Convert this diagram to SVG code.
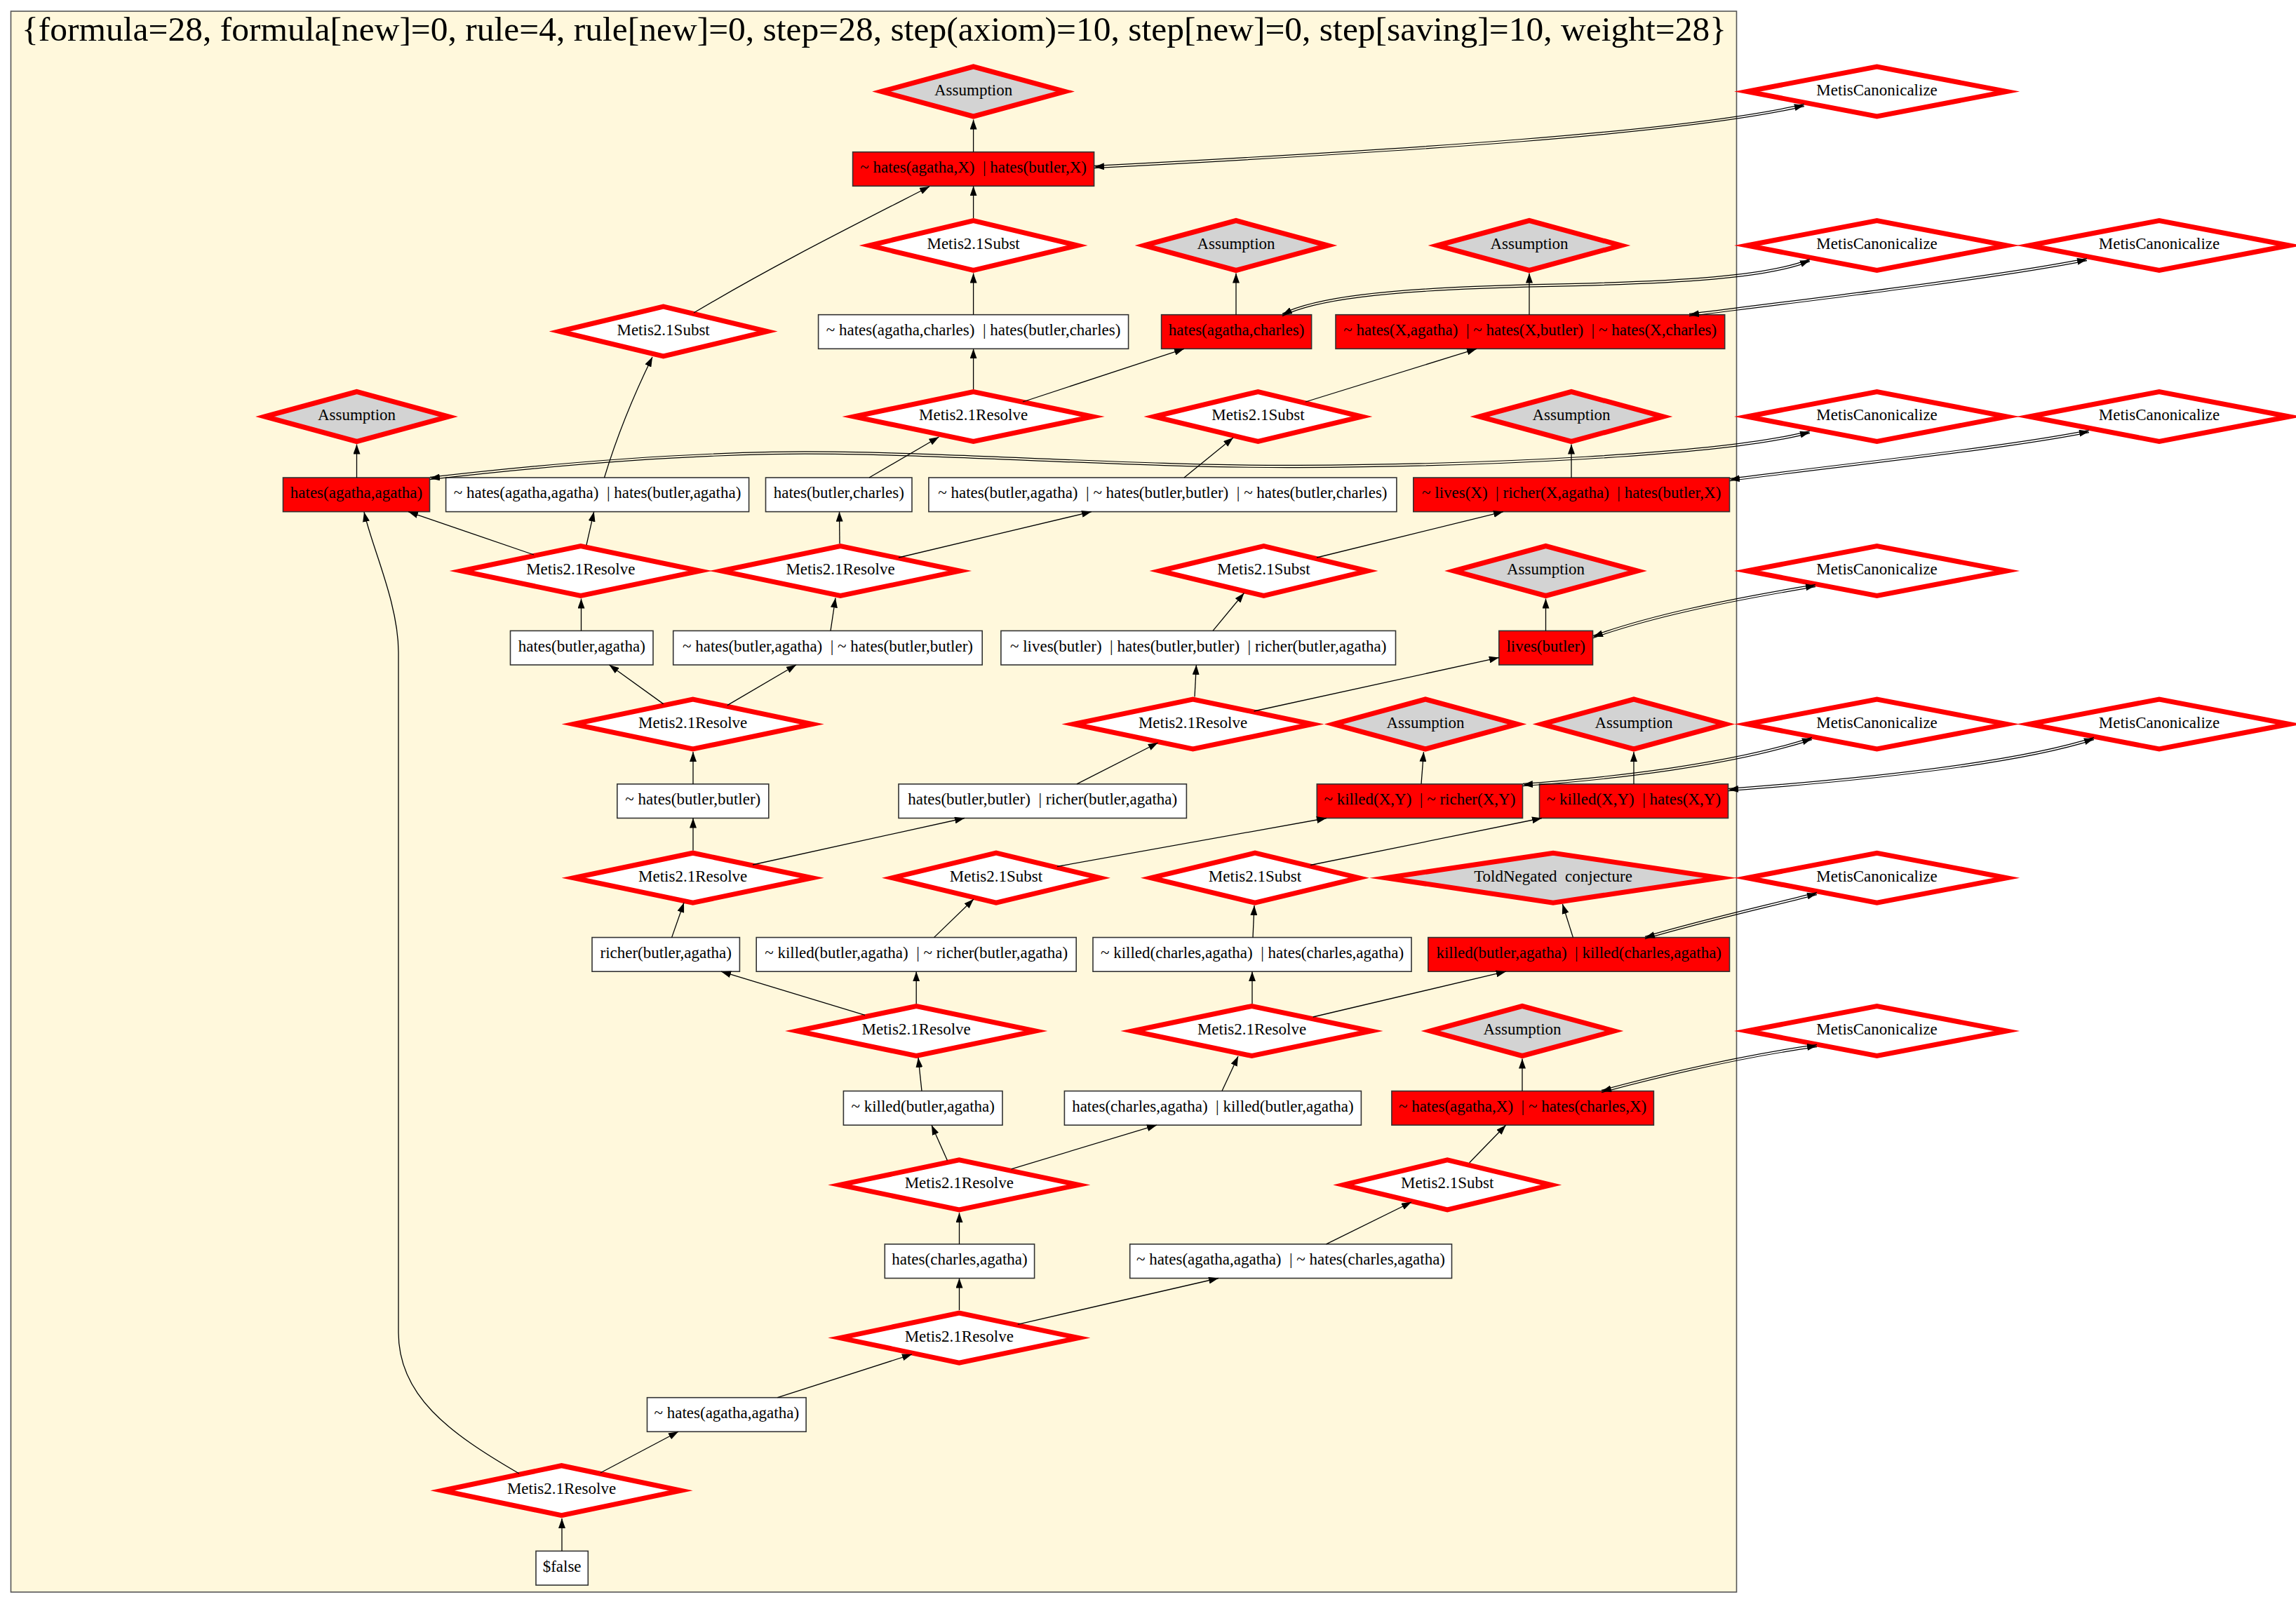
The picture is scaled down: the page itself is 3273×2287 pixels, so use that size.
<svg xmlns="http://www.w3.org/2000/svg" width="3273" height="2287" viewBox="0 0 3273 2287">
<style>
.bx{fill:#ffffff;stroke:#333;stroke-width:1.6}
.rd{fill:#ff0000;stroke:#333;stroke-width:1.6}
.dm{fill:#ffffff;stroke:#ff0000;stroke-width:7;stroke-miterlimit:12}
.ax{fill:#d3d3d3;stroke:#ff0000;stroke-width:7;stroke-miterlimit:12}
.t{font-family:"Liberation Serif","Times New Roman",serif;font-size:23px;text-anchor:middle;white-space:pre;fill:#000}
.e{fill:none;stroke:#000;stroke-width:1.3}
.d{fill:none;stroke:#000;stroke-width:1.2}
.a{fill:none;stroke:none}
</style>
<defs>
<marker id="ah" markerUnits="userSpaceOnUse" viewBox="0 0 14 10" refX="14" refY="5" markerWidth="14" markerHeight="10" orient="auto-start-reverse"><path d="M0,0 L14,5 L0,10 z" fill="#000"/></marker>
</defs>
<rect x="0" y="0" width="3273" height="2287" fill="#ffffff"/>
<g id="cluster">
<rect x="15.5" y="16" width="2460" height="2254" fill="#fff8dc" stroke="#555" stroke-width="1.6"/>
<text x="31" y="58" font-family="Liberation Serif, Times New Roman, serif" font-size="48" textLength="2430" lengthAdjust="spacingAndGlyphs">{formula=28, formula[new]=0, rule=4, rule[new]=0, step=28, step(axiom)=10, step[new]=0, step[saving]=10, weight=28}</text>
</g>

<g id="n1"><polygon class="ax" points="1256.6,130.5 1387.6,95 1518.6,130.5 1387.6,166"/><text class="t" x="1387.6" y="135.5">Assumption</text></g>
<g id="n2"><polygon class="dm" points="2490.6,130.5 2675.6,95 2860.6,130.5 2675.6,166"/><text class="t" x="2675.6" y="135.5">MetisCanonicalize</text></g>
<g id="n3"><rect class="rd" x="1215.6" y="216.7" width="344" height="48.6"/><text class="t" x="1387.6" y="246">~ hates(agatha,X)  | hates(butler,X)</text></g>
<g id="n4"><polygon class="dm" points="1239.6,350 1387.6,314.5 1535.6,350 1387.6,385.5"/><text class="t" x="1387.6" y="355">Metis2.1Subst</text></g>
<g id="n5"><polygon class="ax" points="1631,350 1762,314.5 1893,350 1762,385.5"/><text class="t" x="1762" y="355">Assumption</text></g>
<g id="n6"><polygon class="ax" points="2049,350 2180,314.5 2311,350 2180,385.5"/><text class="t" x="2180" y="355">Assumption</text></g>
<g id="n7"><polygon class="dm" points="2490.6,350 2675.6,314.5 2860.6,350 2675.6,385.5"/><text class="t" x="2675.6" y="355">MetisCanonicalize</text></g>
<g id="n8"><polygon class="dm" points="2893,350 3078,314.5 3263,350 3078,385.5"/><text class="t" x="3078" y="355">MetisCanonicalize</text></g>
<g id="n9"><polygon class="dm" points="797.6,472.5 945.6,437 1093.6,472.5 945.6,508"/><text class="t" x="945.6" y="477.5">Metis2.1Subst</text></g>
<g id="n10"><rect class="bx" x="1166.6" y="448.7" width="442" height="48.6"/><text class="t" x="1387.6" y="478">~ hates(agatha,charles)  | hates(butler,charles)</text></g>
<g id="n11"><rect class="rd" x="1655.6" y="448.7" width="214" height="48.6"/><text class="t" x="1762.6" y="478">hates(agatha,charles)</text></g>
<g id="n12"><rect class="rd" x="1904" y="448.7" width="554.7" height="48.6"/><text class="t" x="2181.3" y="478">~ hates(X,agatha)  | ~ hates(X,butler)  | ~ hates(X,charles)</text></g>
<g id="n13"><polygon class="ax" points="377.5,594 508.5,558.5 639.5,594 508.5,629.5"/><text class="t" x="508.5" y="599">Assumption</text></g>
<g id="n14"><polygon class="dm" points="1217.6,594 1387.6,558.5 1557.6,594 1387.6,629.5"/><text class="t" x="1387.6" y="599">Metis2.1Resolve</text></g>
<g id="n15"><polygon class="dm" points="1645.4,594 1793.4,558.5 1941.4,594 1793.4,629.5"/><text class="t" x="1793.4" y="599">Metis2.1Subst</text></g>
<g id="n16"><polygon class="ax" points="2109,594 2240,558.5 2371,594 2240,629.5"/><text class="t" x="2240" y="599">Assumption</text></g>
<g id="n17"><polygon class="dm" points="2490.6,594 2675.6,558.5 2860.6,594 2675.6,629.5"/><text class="t" x="2675.6" y="599">MetisCanonicalize</text></g>
<g id="n18"><polygon class="dm" points="2893,594 3078,558.5 3263,594 3078,629.5"/><text class="t" x="3078" y="599">MetisCanonicalize</text></g>
<g id="n19"><rect class="rd" x="403.5" y="681" width="209" height="48.6"/><text class="t" x="508" y="710.3">hates(agatha,agatha)</text></g>
<g id="n20"><rect class="bx" x="635.6" y="681" width="432" height="48.6"/><text class="t" x="851.6" y="710.3">~ hates(agatha,agatha)  | hates(butler,agatha)</text></g>
<g id="n21"><rect class="bx" x="1091.5" y="681" width="208.5" height="48.6"/><text class="t" x="1195.8" y="710.3">hates(butler,charles)</text></g>
<g id="n22"><rect class="bx" x="1323.9" y="681" width="667" height="48.6"/><text class="t" x="1657.4" y="710.3">~ hates(butler,agatha)  | ~ hates(butler,butler)  | ~ hates(butler,charles)</text></g>
<g id="n23"><rect class="rd" x="2014.8" y="681" width="450.7" height="48.6"/><text class="t" x="2240.2" y="710.3">~ lives(X)  | richer(X,agatha)  | hates(butler,X)</text></g>
<g id="n24"><polygon class="dm" points="657.8,814 827.8,778.5 997.8,814 827.8,849.5"/><text class="t" x="827.8" y="819">Metis2.1Resolve</text></g>
<g id="n25"><polygon class="dm" points="1028,814 1198,778.5 1368,814 1198,849.5"/><text class="t" x="1198" y="819">Metis2.1Resolve</text></g>
<g id="n26"><polygon class="dm" points="1653.5,814 1801.5,778.5 1949.5,814 1801.5,849.5"/><text class="t" x="1801.5" y="819">Metis2.1Subst</text></g>
<g id="n27"><polygon class="ax" points="2072.5,814 2203.5,778.5 2334.5,814 2203.5,849.5"/><text class="t" x="2203.5" y="819">Assumption</text></g>
<g id="n28"><polygon class="dm" points="2490.6,814 2675.6,778.5 2860.6,814 2675.6,849.5"/><text class="t" x="2675.6" y="819">MetisCanonicalize</text></g>
<g id="n29"><rect class="bx" x="727.5" y="899.4" width="203.5" height="48.6"/><text class="t" x="829.3" y="928.7">hates(butler,agatha)</text></g>
<g id="n30"><rect class="bx" x="959.7" y="899.4" width="440.5" height="48.6"/><text class="t" x="1180" y="928.7">~ hates(butler,agatha)  | ~ hates(butler,butler)</text></g>
<g id="n31"><rect class="bx" x="1426.9" y="899.4" width="562.6" height="48.6"/><text class="t" x="1708.2" y="928.7">~ lives(butler)  | hates(butler,butler)  | richer(butler,agatha)</text></g>
<g id="n32"><rect class="rd" x="2136.8" y="899.4" width="133.7" height="48.6"/><text class="t" x="2203.6" y="928.7">lives(butler)</text></g>
<g id="n33"><polygon class="dm" points="817.7,1032.5 987.7,997 1157.7,1032.5 987.7,1068"/><text class="t" x="987.7" y="1037.5">Metis2.1Resolve</text></g>
<g id="n34"><polygon class="dm" points="1530.5,1032.5 1700.5,997 1870.5,1032.5 1700.5,1068"/><text class="t" x="1700.5" y="1037.5">Metis2.1Resolve</text></g>
<g id="n35"><polygon class="ax" points="1901,1032.5 2032,997 2163,1032.5 2032,1068"/><text class="t" x="2032" y="1037.5">Assumption</text></g>
<g id="n36"><polygon class="ax" points="2198,1032.5 2329,997 2460,1032.5 2329,1068"/><text class="t" x="2329" y="1037.5">Assumption</text></g>
<g id="n37"><polygon class="dm" points="2490.6,1032.5 2675.6,997 2860.6,1032.5 2675.6,1068"/><text class="t" x="2675.6" y="1037.5">MetisCanonicalize</text></g>
<g id="n38"><polygon class="dm" points="2893,1032.5 3078,997 3263,1032.5 3078,1068"/><text class="t" x="3078" y="1037.5">MetisCanonicalize</text></g>
<g id="n39"><rect class="bx" x="879.8" y="1117.9" width="216" height="48.6"/><text class="t" x="987.8" y="1147.2">~ hates(butler,butler)</text></g>
<g id="n40"><rect class="bx" x="1281" y="1117.9" width="410.4" height="48.6"/><text class="t" x="1486.2" y="1147.2">hates(butler,butler)  | richer(butler,agatha)</text></g>
<g id="n41"><rect class="rd" x="1877.3" y="1117.9" width="293.2" height="48.6"/><text class="t" x="2023.9" y="1147.2">~ killed(X,Y)  | ~ richer(X,Y)</text></g>
<g id="n42"><rect class="rd" x="2194.5" y="1117.9" width="269" height="48.6"/><text class="t" x="2329" y="1147.2">~ killed(X,Y)  | hates(X,Y)</text></g>
<g id="n43"><polygon class="dm" points="817.7,1251.7 987.7,1216.2 1157.7,1251.7 987.7,1287.2"/><text class="t" x="987.7" y="1256.7">Metis2.1Resolve</text></g>
<g id="n44"><polygon class="dm" points="1272,1251.7 1420,1216.2 1568,1251.7 1420,1287.2"/><text class="t" x="1420" y="1256.7">Metis2.1Subst</text></g>
<g id="n45"><polygon class="dm" points="1641,1251.7 1789,1216.2 1937,1251.7 1789,1287.2"/><text class="t" x="1789" y="1256.7">Metis2.1Subst</text></g>
<g id="n46"><polygon class="ax" points="1976,1251.7 2214,1216.2 2452,1251.7 2214,1287.2"/><text class="t" x="2214" y="1256.7">ToldNegated  conjecture</text></g>
<g id="n47"><polygon class="dm" points="2490.6,1251.7 2675.6,1216.2 2860.6,1251.7 2675.6,1287.2"/><text class="t" x="2675.6" y="1256.7">MetisCanonicalize</text></g>
<g id="n48"><rect class="bx" x="844" y="1336.6" width="210.4" height="48.6"/><text class="t" x="949.2" y="1365.9">richer(butler,agatha)</text></g>
<g id="n49"><rect class="bx" x="1078.2" y="1336.6" width="456" height="48.6"/><text class="t" x="1306.2" y="1365.9">~ killed(butler,agatha)  | ~ richer(butler,agatha)</text></g>
<g id="n50"><rect class="bx" x="1558" y="1336.6" width="454" height="48.6"/><text class="t" x="1785" y="1365.9">~ killed(charles,agatha)  | hates(charles,agatha)</text></g>
<g id="n51"><rect class="rd" x="2035.8" y="1336.6" width="429.7" height="48.6"/><text class="t" x="2250.7" y="1365.9">killed(butler,agatha)  | killed(charles,agatha)</text></g>
<g id="n52"><polygon class="dm" points="1136.2,1470 1306.2,1434.5 1476.2,1470 1306.2,1505.5"/><text class="t" x="1306.2" y="1475">Metis2.1Resolve</text></g>
<g id="n53"><polygon class="dm" points="1614.5,1470 1784.5,1434.5 1954.5,1470 1784.5,1505.5"/><text class="t" x="1784.5" y="1475">Metis2.1Resolve</text></g>
<g id="n54"><polygon class="ax" points="2039,1470 2170,1434.5 2301,1470 2170,1505.5"/><text class="t" x="2170" y="1475">Assumption</text></g>
<g id="n55"><polygon class="dm" points="2490.6,1470 2675.6,1434.5 2860.6,1470 2675.6,1505.5"/><text class="t" x="2675.6" y="1475">MetisCanonicalize</text></g>
<g id="n56"><rect class="bx" x="1202.4" y="1555.6" width="226.6" height="48.6"/><text class="t" x="1315.7" y="1584.9">~ killed(butler,agatha)</text></g>
<g id="n57"><rect class="bx" x="1517.4" y="1555.6" width="423" height="48.6"/><text class="t" x="1728.9" y="1584.9">hates(charles,agatha)  | killed(butler,agatha)</text></g>
<g id="n58"><rect class="rd" x="1983.9" y="1555.6" width="373.5" height="48.6"/><text class="t" x="2170.6" y="1584.9">~ hates(agatha,X)  | ~ hates(charles,X)</text></g>
<g id="n59"><polygon class="dm" points="1197.3,1689.4 1367.3,1653.9 1537.3,1689.4 1367.3,1724.9"/><text class="t" x="1367.3" y="1694.4">Metis2.1Resolve</text></g>
<g id="n60"><polygon class="dm" points="1915.2,1689.4 2063.2,1653.9 2211.2,1689.4 2063.2,1724.9"/><text class="t" x="2063.2" y="1694.4">Metis2.1Subst</text></g>
<g id="n61"><rect class="bx" x="1261.3" y="1773.9" width="213.3" height="48.6"/><text class="t" x="1368" y="1803.2">hates(charles,agatha)</text></g>
<g id="n62"><rect class="bx" x="1610.7" y="1773.9" width="458.8" height="48.6"/><text class="t" x="1840" y="1803.2">~ hates(agatha,agatha)  | ~ hates(charles,agatha)</text></g>
<g id="n63"><polygon class="dm" points="1197.3,1907.6 1367.3,1872.1 1537.3,1907.6 1367.3,1943.1"/><text class="t" x="1367.3" y="1912.6">Metis2.1Resolve</text></g>
<g id="n64"><rect class="bx" x="922.5" y="1992.7" width="226.6" height="48.6"/><text class="t" x="1035.8" y="2022">~ hates(agatha,agatha)</text></g>
<g id="n65"><polygon class="dm" points="630.5,2125.2 800.5,2089.7 970.5,2125.2 800.5,2160.7"/><text class="t" x="800.5" y="2130.2">Metis2.1Resolve</text></g>
<g id="n66"><rect class="bx" x="764" y="2211.5" width="74.3" height="48.6"/><text class="t" x="801.1" y="2240.8">$false</text></g>

<g id="edges">
<g class="e" marker-end="url(#ah)">
<path d="M1387.6,216.7 V170.5"/>
<path d="M1387.6,311 V265.3"/>
<path d="M989,446 C1100,380 1200,330 1325,266"/>
<path d="M1762,448.7 V389.5"/>
<path d="M2180,448.7 V389.5"/>
<path d="M1387.6,448.7 V389.5"/>
<path d="M1387.6,555 V497.3"/>
<path d="M1458,573 L1688,497.3"/>
<path d="M1861,573 L2105,497.3"/>
<path d="M508.5,681 V633.5"/>
<path d="M861.5,681 C880,620 905,560 930,509"/>
<path d="M2240,681 V633.5"/>
<path d="M761,791 L582,729.6"/>
<path d="M836,777 L846.7,729.6"/>
<path d="M1197,775 L1196.5,729.6"/>
<path d="M1281,795 L1556,729.6"/>
<path d="M1239,681 L1338.5,623"/>
<path d="M1688,681 L1758,624"/>
<path d="M1877,795 L2143,729.6"/>
<path d="M2203.5,899.4 V853.5"/>
<path d="M1184,899.4 L1191,852.5"/>
<path d="M1729,899.4 L1773.5,845.5"/>
<path d="M828.5,899.4 V853.5"/>
<path d="M945.6,1003.6 L868.5,948"/>
<path d="M1036.8,1005.6 L1135,948"/>
<path d="M1703,993.5 L1705.4,948"/>
<path d="M1787.5,1014 L2136.8,937.6"/>
<path d="M988,1117.9 V1072"/>
<path d="M1535,1117.9 L1650.7,1059"/>
<path d="M2026,1117.9 L2029.5,1072"/>
<path d="M2329,1117.9 V1072"/>
<path d="M988,1212.5 V1166.5"/>
<path d="M1073,1233 L1375,1166.5"/>
<path d="M1507,1235.5 L1891,1166.5"/>
<path d="M1868,1233.5 L2198,1166.5"/>
<path d="M2242.4,1336.6 L2227.4,1289"/>
<path d="M957.6,1336.6 L975,1287"/>
<path d="M1331.5,1336.6 L1388,1282"/>
<path d="M1786,1336.6 L1788,1291"/>
<path d="M1233,1447.4 L1028,1385.2"/>
<path d="M1306.2,1431 V1385.2"/>
<path d="M1785,1431 V1385.2"/>
<path d="M1871.7,1450 L2146.7,1385.2"/>
<path d="M2170,1555.6 V1509.5"/>
<path d="M1314,1555.6 L1309,1508"/>
<path d="M1742,1555.6 L1765,1506"/>
<path d="M1350.4,1654.6 L1328,1604.2"/>
<path d="M1441.6,1666.8 L1649,1604.2"/>
<path d="M2094.7,1657.8 L2146.7,1604.2"/>
<path d="M1367.5,1773.9 V1729"/>
<path d="M1890.6,1773.9 L2012,1714"/>
<path d="M1367.5,1868 V1822.5"/>
<path d="M1450.8,1888.3 L1737,1822.5"/>
<path d="M1108.4,1992.7 L1300,1931"/>
<path d="M855.9,2100 L967,2041.3"/>
<path d="M740,2101 C640,2043 568,1990 568,1900 L568,930 C568,860 530,780 519,730"/>
<path d="M801,2211.5 V2165"/>
</g>
<g class="d">
<path transform="translate(0,-1.6)" d="M1560,238 C2000,215 2400,190 2572,150"/>
<path transform="translate(0,1.6)" d="M1560,238 C2000,215 2400,190 2572,150"/>
<path transform="translate(0,-1.6)" d="M1828,449 C1870,428 1960,412 2200,407 C2400,403 2520,395 2580,371"/>
<path transform="translate(0,1.6)" d="M1828,449 C1870,428 1960,412 2200,407 C2400,403 2520,395 2580,371"/>
<path transform="translate(0,-1.6)" d="M2408,449 C2600,425 2850,395 2975,370"/>
<path transform="translate(0,1.6)" d="M2408,449 C2600,425 2850,395 2975,370"/>
<path transform="translate(0,-1.6)" d="M613,682 C700,672 900,650 1100,646 C1300,642 1600,666 1850,665 C2100,664 2450,650 2580,616"/>
<path transform="translate(0,1.6)" d="M613,682 C700,672 900,650 1100,646 C1300,642 1600,666 1850,665 C2100,664 2450,650 2580,616"/>
<path transform="translate(0,-1.6)" d="M2466,684 C2650,660 2850,640 2978,615"/>
<path transform="translate(0,1.6)" d="M2466,684 C2650,660 2850,640 2978,615"/>
<path transform="translate(0,-1.6)" d="M2271,908 C2350,880 2450,858 2588,835"/>
<path transform="translate(0,1.6)" d="M2271,908 C2350,880 2450,858 2588,835"/>
<path transform="translate(0,-1.6)" d="M2171,1119 C2300,1110 2470,1090 2583,1053"/>
<path transform="translate(0,1.6)" d="M2171,1119 C2300,1110 2470,1090 2583,1053"/>
<path transform="translate(0,-1.6)" d="M2464,1126 C2650,1112 2870,1090 2985,1053"/>
<path transform="translate(0,1.6)" d="M2464,1126 C2650,1112 2870,1090 2985,1053"/>
<path transform="translate(0,-1.6)" d="M2345,1337 C2430,1312 2520,1292 2590,1274"/>
<path transform="translate(0,1.6)" d="M2345,1337 C2430,1312 2520,1292 2590,1274"/>
<path transform="translate(0,-1.6)" d="M2283,1556 C2380,1530 2490,1505 2590,1491"/>
<path transform="translate(0,1.6)" d="M2283,1556 C2380,1530 2490,1505 2590,1491"/>
</g>
<g class="a" marker-start="url(#ah)" marker-end="url(#ah)">
<path d="M1560,238 C2000,215 2400,190 2572,150"/>
<path d="M1828,449 C1870,428 1960,412 2200,407 C2400,403 2520,395 2580,371"/>
<path d="M2408,449 C2600,425 2850,395 2975,370"/>
<path d="M613,682 C700,672 900,650 1100,646 C1300,642 1600,666 1850,665 C2100,664 2450,650 2580,616"/>
<path d="M2466,684 C2650,660 2850,640 2978,615"/>
<path d="M2271,908 C2350,880 2450,858 2588,835"/>
<path d="M2171,1119 C2300,1110 2470,1090 2583,1053"/>
<path d="M2464,1126 C2650,1112 2870,1090 2985,1053"/>
<path d="M2345,1337 C2430,1312 2520,1292 2590,1274"/>
<path d="M2283,1556 C2380,1530 2490,1505 2590,1491"/>
</g>
</g>
</svg>
